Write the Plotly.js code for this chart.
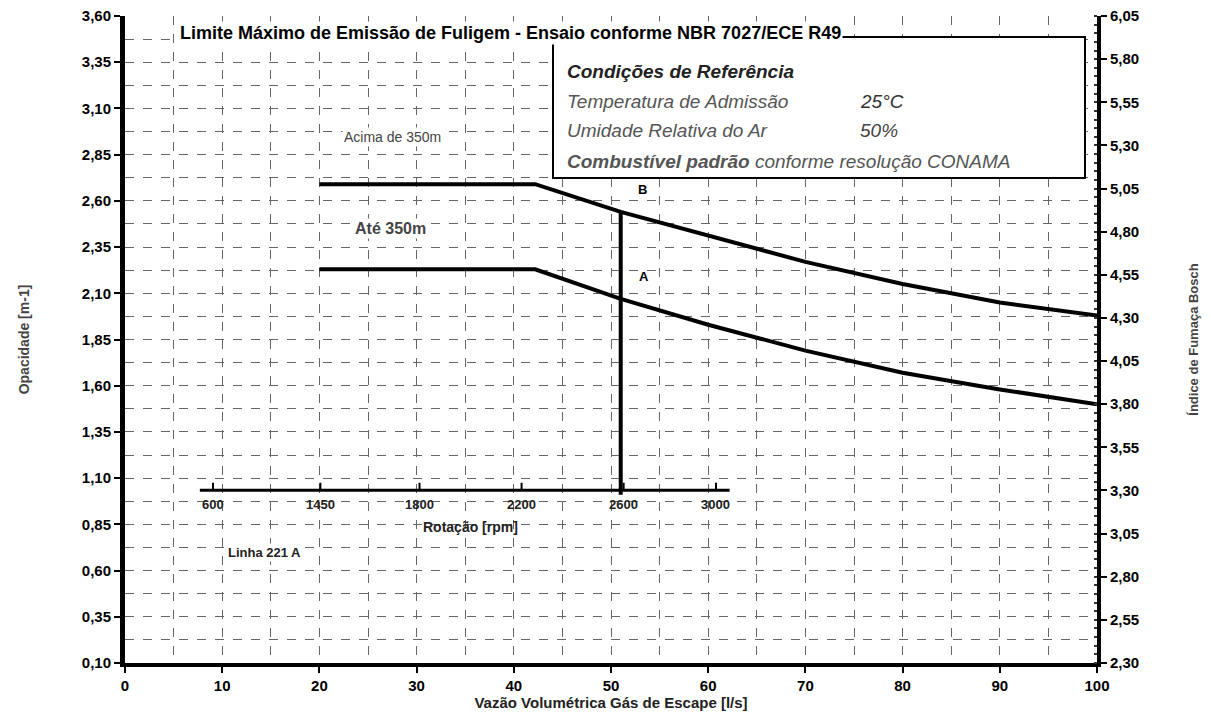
<!DOCTYPE html>
<html><head><meta charset="utf-8">
<script src="https://cdn.plot.ly/plotly-3.0.1.min.js"></script>
<style>body{margin:0;background:#fff}#chart{width:1211px;height:719px}</style>
</head><body><div id="chart"></div>
<script>
// Vazão volumétrica (l/s) and opacidade (m-1) of the two limit curves
const flowUpper = [20, 42.2, 51, 60, 70, 80, 90, 100];
const opacUpper = [2.69, 2.69, 2.54, 2.41, 2.27, 2.15, 2.05, 1.98];
const flowLower = [20, 42.2, 51, 60, 70, 80, 90, 100];
const opacLower = [2.23, 2.23, 2.07, 1.93, 1.79, 1.67, 1.58, 1.50];
// vertical reference line (rated speed)
const refFlow = [51, 51];
const refOpac = [1.01, 2.54];
// inset rpm scale (positions in flow units and labels)
const rpmPos = [9.05, 20.1, 30.3, 40.8, 51.3, 60.8];
const rpmLabels = ['600', '1450', '1800', '2200', '2600', '3000'];
const rpmAxisFlow = [7.7, 62.2];
const rpmAxisOpac = 1.035;

const FONT = 'Liberation Sans, Arial, sans-serif';
const W = 1211, H = 719, L = 125, R = 114, T = 16, B = 56;
const pw = W - L - R, ph = H - T - B;
const px = v => (v - L) / pw;
const py = v => (H - B - v) / ph;

const traces = [
  {x: flowUpper, y: opacUpper, mode: 'lines', line: {color: '#000', width: 4}, hoverinfo: 'skip', showlegend: false},
  {x: flowLower, y: opacLower, mode: 'lines', line: {color: '#000', width: 4}, hoverinfo: 'skip', showlegend: false},
  {x: refFlow, y: refOpac, mode: 'lines', line: {color: '#000', width: 4}, hoverinfo: 'skip', showlegend: false},
  {x: [null], y: [null], yaxis: 'y2', mode: 'lines', showlegend: false, hoverinfo: 'skip'}
];

const shapes = [
  {type: 'line', xref: 'x', yref: 'y', x0: rpmAxisFlow[0], x1: rpmAxisFlow[1], y0: rpmAxisOpac, y1: rpmAxisOpac, line: {color: '#000', width: 3}},
  {type: 'rect', xref: 'paper', yref: 'paper', x0: px(553), x1: px(1085), y0: py(178), y1: py(37),
   fillcolor: '#fff', line: {color: '#000', width: 2}, layer: 'above'}
];
rpmPos.forEach(p => shapes.push({type: 'line', xref: 'x', yref: 'y', x0: p, x1: p, y0: rpmAxisOpac, y1: rpmAxisOpac + 0.04, line: {color: '#000', width: 2}}));

const ann = [];
ann.push({xref: 'paper', yref: 'paper', x: px(510), y: py(21), text: 'Limite Máximo de Emissão de Fuligem - Ensaio conforme NBR 7027/ECE R49',
  showarrow: false, font: {family: FONT, size: 18, color: '#000', weight: 700}, bgcolor: '#fff'});
ann.push({xref: 'paper', yref: 'paper', x: px(565), y: py(59), xanchor: 'left', text: '<b><i>Condições de Referência</i></b>', showarrow: false, font: {family: FONT, size: 19, color: '#222'}});
ann.push({xref: 'paper', yref: 'paper', x: px(565), y: py(89), xanchor: 'left', text: '<i>Temperatura de Admissão</i>', showarrow: false, font: {family: FONT, size: 19, color: '#555'}});
ann.push({xref: 'paper', yref: 'paper', x: px(858), y: py(89), xanchor: 'left', text: '<i>25°C</i>', showarrow: false, font: {family: FONT, size: 19, color: '#333'}});
ann.push({xref: 'paper', yref: 'paper', x: px(565), y: py(118), xanchor: 'left', text: '<i>Umidade Relativa do Ar</i>', showarrow: false, font: {family: FONT, size: 19, color: '#555'}});
ann.push({xref: 'paper', yref: 'paper', x: px(858), y: py(118), xanchor: 'left', text: '<i>50%</i>', showarrow: false, font: {family: FONT, size: 19, color: '#444'}});
ann.push({xref: 'paper', yref: 'paper', x: px(565), y: py(149), xanchor: 'left', text: '<i><b>Combustível padrão</b> conforme resolução CONAMA</i>', showarrow: false, font: {family: FONT, size: 19, color: '#555'}});
ann.push({xref: 'x', yref: 'y', x: 27.5, y: 2.945, text: 'Acima de 350m', showarrow: false, font: {family: FONT, size: 14, color: '#444'}, bgcolor: '#fff'});
ann.push({xref: 'x', yref: 'y', x: 27.3, y: 2.45, text: 'Até 350m', showarrow: false, font: {family: FONT, size: 16, color: '#444', weight: 700}, bgcolor: '#fff'});
ann.push({xref: 'x', yref: 'y', x: 53.2, y: 2.66, text: 'B', showarrow: false, font: {family: FONT, size: 13, color: '#000', weight: 700}});
ann.push({xref: 'x', yref: 'y', x: 53.4, y: 2.19, text: 'A', showarrow: false, font: {family: FONT, size: 13, color: '#000', weight: 700}});
ann.push({xref: 'x', yref: 'y', x: 14.3, y: 0.70, text: 'Linha 221 A', showarrow: false, font: {family: FONT, size: 13, color: '#222', weight: 700}, bgcolor: '#fff'});
rpmPos.forEach((p, i) => ann.push({xref: 'x', yref: 'y', x: p, y: rpmAxisOpac, yanchor: 'top', yshift: -5, text: rpmLabels[i], showarrow: false, font: {family: FONT, size: 13, color: '#222', weight: 700}}));
ann.push({xref: 'x', yref: 'y', x: 35.5, y: rpmAxisOpac, yanchor: 'top', yshift: -27, text: 'Rotação [rpm]', showarrow: false, font: {family: FONT, size: 14, color: '#222', weight: 700}});

const gridStyle = {gridcolor: '#666', griddash: 'dash', gridwidth: 1};
const layout = {
  width: W, height: H,
  margin: {l: L, r: R, t: T, b: B},
  paper_bgcolor: '#fff', plot_bgcolor: '#fff',
  separators: ',.',
  showlegend: false,
  xaxis: Object.assign({
    range: [0, 100], tick0: 0, dtick: 10, ticks: 'outside', ticklen: 6, tickwidth: 2, tickcolor: '#000',
    showline: true, linewidth: 4, linecolor: '#000', zeroline: false, showgrid: true,
    minor: Object.assign({dtick: 5, showgrid: true}, gridStyle),
    tickfont: {family: FONT, size: 15, color: '#000', weight: 700},
    title: {text: 'Vazão Volumétrica Gás de Escape [l/s]', standoff: 4, font: {family: FONT, size: 15, color: '#222', weight: 700}}
  }, gridStyle),
  yaxis: Object.assign({
    range: [0.10, 3.60], tick0: 0.10, dtick: 0.25, tickformat: '.2f', ticks: 'outside', ticklen: 6, tickwidth: 2, tickcolor: '#000',
    showline: true, linewidth: 5, linecolor: '#000', zeroline: false, showgrid: true,
    minor: Object.assign({tick0: 0.10, dtick: 0.125, showgrid: true}, gridStyle),
    tickfont: {family: FONT, size: 15, color: '#000', weight: 700},
    title: {text: 'Opacidade [m-1]', standoff: 50, font: {family: FONT, size: 14, color: '#444', weight: 700}}
  }, gridStyle),
  yaxis2: {
    overlaying: 'y', side: 'right', range: [2.30, 6.05], tick0: 2.30, dtick: 0.25, tickformat: '.2f',
    ticks: 'outside', ticklen: 6, tickwidth: 2, tickcolor: '#000',
    showline: true, linewidth: 4, linecolor: '#000', zeroline: false, showgrid: false,
    minor: {dtick: 0.05, ticks: 'inside', ticklen: 3, tickcolor: '#333', showgrid: false},
    tickfont: {family: FONT, size: 15, color: '#000', weight: 700},
    title: {text: 'Índice de Fumaça Bosch', standoff: 52, font: {family: FONT, size: 13, color: '#444', weight: 700}}
  },
  shapes: shapes,
  annotations: ann
};
Plotly.newPlot('chart', traces, layout, {staticPlot: true, displayModeBar: false});
</script>
</body></html>
